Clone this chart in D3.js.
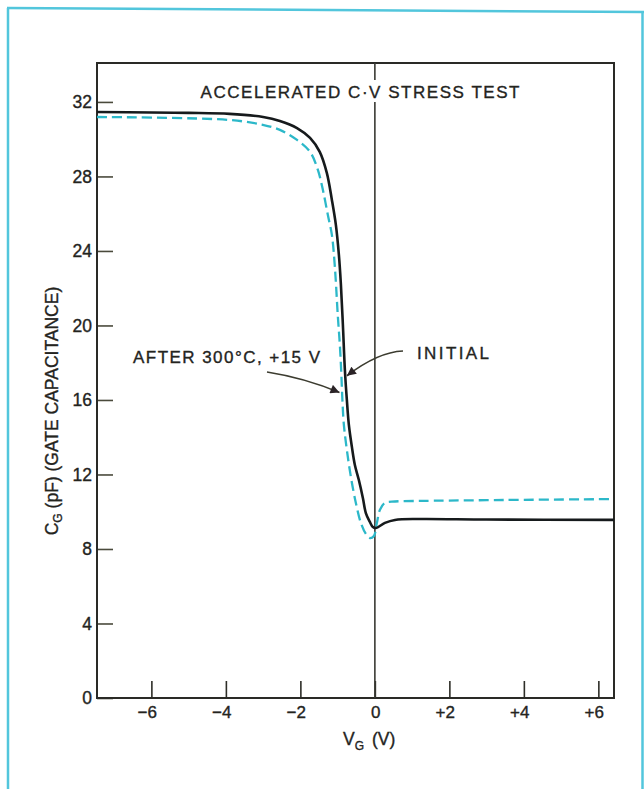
<!DOCTYPE html>
<html>
<head>
<meta charset="utf-8">
<script src="https://cdn.jsdelivr.net/npm/d3@7"></script>
<style>
  html, body { margin: 0; padding: 0; background: #fff; }
  svg { display: block; }
  text { font-family: "Liberation Sans", Arial, Helvetica, sans-serif; fill: #24241e;
         stroke: #24241e; stroke-width: 0.35px; }
</style>
</head>
<body>
<svg id="chart" width="644" height="789"></svg>
<script>
// C-V curve, initial device (gate voltage in V, gate capacitance in pF)
const initialVg = [-7.46, -6, -5, -3.9, -3.0, -2.55, -2.09, -1.74, -1.48, -1.29, -1.154, -1.047,
                   -0.966, -0.913, -0.859, -0.805, -0.752, -0.698, -0.617, -0.537, -0.430, -0.322,
                   -0.242, -0.134, -0.054, 0.027, 0.27, 0.54, 1.2, 3.0, 6.42];
const initialCg = [31.46, 31.43, 31.41, 31.36, 31.19, 30.98, 30.60, 30.07, 29.32, 28.19, 26.74, 25.40,
                   23.79, 22.23, 20.05, 17.61, 16.00, 14.66, 13.48, 12.51, 11.70, 10.74,
                   9.93, 9.45, 9.18, 9.13, 9.40, 9.56, 9.61, 9.58, 9.56];

// C-V curve after 300 °C, +15 V stress
const stressedVg = [-7.46, -3.89, -3.01, -2.55, -2.09, -1.74, -1.53, -1.396, -1.262, -1.154, -1.074,
                    -0.993, -0.940, -0.899, -0.872, -0.832, -0.752, -0.644, -0.510, -0.376, -0.242,
                    -0.134, -0.027, 0.054, 0.134, 0.268, 0.54, 1.2, 3.0, 6.42];
const stressedCg = [31.19, 31.03, 30.77, 30.50, 29.96, 29.32, 28.35, 27.28, 25.93, 24.86, 23.14,
                    20.46, 18.95, 17.34, 16.00, 14.66, 13.32, 11.87, 10.47, 9.40, 8.81,
                    8.59, 8.70, 9.40, 10.09, 10.47, 10.55, 10.58, 10.62, 10.68];

const xTicks = [-6, -4, -2, 0, 2, 4, 6];
const xTickLabels = ["\u22126", "\u22124", "\u22122", "0", "+2", "+4", "+6"];
const yTicks = [0, 4, 8, 12, 16, 20, 24, 28, 32];
const yTickLabels = ["0", "4", "8", "12", "16", "20", "24", "28", "32"];

const svg = d3.select("#chart");
const ink = "#24241e";

const x = d3.scaleLinear().domain([-7.46, 6.42]).range([97, 614]);
const y = d3.scaleLinear().domain([0, 34.09]).range([698, 63]);

// page border
const border = svg.append("g").attr("stroke", "#52c6dc").attr("stroke-width", 2.5).attr("fill", "none");
border.append("line").attr("x1", 8).attr("y1", 8).attr("x2", 8).attr("y2", 789);
border.append("line").attr("x1", 7).attr("y1", 8).attr("x2", 644).attr("y2", 12);
border.append("line").attr("x1", 642.5).attr("y1", 12).attr("x2", 642.5).attr("y2", 789);

// axes with inward ticks
const yAxis = d3.axisLeft(y).tickValues(yTicks).tickSize(-16).tickPadding(5)
  .tickFormat((d, i) => yTickLabels[i]);
const xAxis = d3.axisBottom(x).tickValues(xTicks).tickSize(-17).tickPadding(8)
  .tickFormat((d, i) => xTickLabels[i]);

const gy = svg.append("g").attr("transform", `translate(${x.range()[0]},0)`).call(yAxis);
gy.select(".domain").remove();
gy.selectAll(".tick line").attr("stroke", "#4a4a3c").attr("stroke-width", 1.6);
gy.selectAll(".tick text").attr("font-size", 17.5).attr("fill", ink);

const gx = svg.append("g").attr("transform", `translate(0,${y.range()[0]})`).call(xAxis);
gx.select(".domain").remove();
gx.selectAll(".tick line").attr("stroke", "#2e2e28").attr("stroke-width", 1.6);
gx.selectAll(".tick text").attr("font-size", 17).attr("fill", ink)
  .attr("text-anchor", "end").attr("x", 5);

// plot frame
svg.append("rect")
  .attr("x", x.range()[0]).attr("y", y.range()[1])
  .attr("width", x.range()[1] - x.range()[0]).attr("height", y.range()[0] - y.range()[1])
  .attr("fill", "none").attr("stroke", "#2a2a26").attr("stroke-width", 2);

// zero-volt reference line (interrupted by the title)
const zx = x(0);
svg.append("line").attr("x1", zx).attr("x2", zx).attr("y1", y.range()[1]).attr("y2", 80)
  .attr("stroke", "#3a3a34").attr("stroke-width", 1.6);
svg.append("line").attr("x1", zx).attr("x2", zx).attr("y1", 102).attr("y2", y.range()[0])
  .attr("stroke", "#3a3a34").attr("stroke-width", 1.6);

// curves
const line = d3.line().curve(d3.curveCatmullRom.alpha(0.5)).x(d => x(d[0])).y(d => y(d[1]));
const stressed = stressedVg.map((v, i) => [v, stressedCg[i]]);
const initial = initialVg.map((v, i) => [v, initialCg[i]]);

svg.append("path").datum(stressed).attr("d", line)
  .attr("fill", "none").attr("stroke", "#2cb8c9").attr("stroke-width", 2.3)
  .attr("stroke-dasharray", "10,5");
svg.append("path").datum(initial).attr("d", line)
  .attr("fill", "none").attr("stroke", "#161a1c").attr("stroke-width", 2.6);

// title
svg.append("text").attr("x", 360).attr("y", 98).attr("text-anchor", "middle")
  .attr("font-size", 17).attr("textLength", 319).attr("lengthAdjust", "spacing")
  .text("ACCELERATED C\u00B7V STRESS TEST");

// axis titles
const yl = svg.append("text").attr("transform", "translate(58,411) rotate(-90)")
  .attr("text-anchor", "middle").attr("font-size", 17.5);
yl.append("tspan").text("C");
yl.append("tspan").attr("font-size", 12).attr("dy", 4).text("G");
yl.append("tspan").attr("dy", -4).text(" (pF) (GATE CAPACITANCE)");

const xl = svg.append("text").attr("x", 343).attr("y", 745).attr("font-size", 17.5);
xl.append("tspan").text("V");
xl.append("tspan").attr("font-size", 12).attr("dy", 5).text("G");
xl.append("tspan").attr("dy", -5).attr("dx", 8).text("(V)");

// annotations
const defs = svg.append("defs");
defs.append("marker").attr("id", "head").attr("viewBox", "0 0 10 10")
  .attr("refX", 10).attr("refY", 5).attr("markerWidth", 11).attr("markerHeight", 9)
  .attr("markerUnits", "userSpaceOnUse").attr("orient", "auto")
  .append("path").attr("d", "M0,0 L10,5 L0,10 Z").attr("fill", "#2a2326");

svg.append("text").attr("x", 133).attr("y", 363).attr("font-size", 17)
  .attr("textLength", 187).attr("lengthAdjust", "spacing")
  .text("AFTER 300\u00B0C, +15 V");
svg.append("text").attr("x", 417).attr("y", 359).attr("font-size", 17)
  .attr("textLength", 72).attr("lengthAdjust", "spacing")
  .text("INITIAL");

// arrow tips sit on the curves
const tipInit = [x(-0.79) + 1.5, y(17.3)];
const tipStress = [x(-0.91) - 1.5, y(16.4)];
svg.append("path")
  .attr("d", `M403,351 Q378,352 ${tipInit[0]},${tipInit[1]}`)
  .attr("fill", "none").attr("stroke", "#3c3c30").attr("stroke-width", 1.6)
  .attr("marker-end", "url(#head)");
svg.append("path")
  .attr("d", `M267,372 Q305,378 ${tipStress[0]},${tipStress[1]}`)
  .attr("fill", "none").attr("stroke", "#3c3c30").attr("stroke-width", 1.6)
  .attr("marker-end", "url(#head)");
</script>
</body>
</html>
